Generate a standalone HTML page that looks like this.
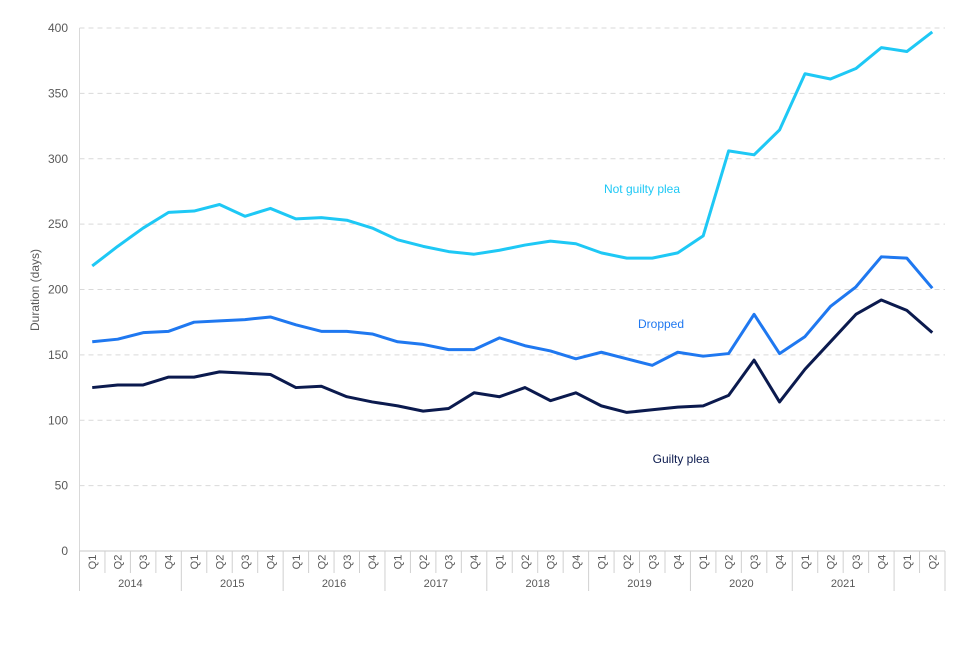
<!DOCTYPE html>
<html><head><meta charset="utf-8"><style>
body{margin:0;background:#fff;width:960px;height:640px;overflow:hidden;font-family:"Liberation Sans",Arial,sans-serif}
svg text{font-family:"Liberation Sans",Arial,sans-serif}
</style></head><body>
<svg id="chart" width="960" height="640" xmlns="http://www.w3.org/2000/svg"></svg>
<script>
const years=["2014","2015","2016","2017","2018","2019","2020","2021",""];
const quarters=["Q1","Q2","Q3","Q4"];
const yTicks=[0,50,100,150,200,250,300,350,400];
const notGuilty=[218,233,247,259,260,265,256,262,254,255,253,247,238,233,229,227,230,234,237,235,228,224,224,228,241,306,303,322,365,361,369,385,382,397];
const dropped=[160,162,167,168,175,176,177,179,173,168,168,166,160,158,154,154,163,157,153,147,152,147,142,152,149,151,181,151,164,187,202,225,224,201];
const guilty=[125,127,127,133,133,137,136,135,125,126,118,114,111,107,109,121,118,125,115,121,111,106,108,110,111,119,146,114,139,160,181,192,184,167];
const svg=document.getElementById('chart');
const NS='http://www.w3.org/2000/svg';
const x0=79.5,x1=945,yb=551,yt=28,n=notGuilty.length;
const bw=(x1-x0)/n;
function xs(i){return x0+bw*(i+0.5);}
function ys(v){return yb-(v/400)*(yb-yt);}
function mk(tag,attrs,parent){const e=document.createElementNS(NS,tag);for(const k in attrs)e.setAttribute(k,attrs[k]);(parent||svg).appendChild(e);return e;}
yTicks.forEach(t=>{
  if(t>0){const g=mk('line',{x1:x0,x2:x1,y1:ys(t),y2:ys(t),stroke:'#d9d9d9','stroke-dasharray':'5,4'});
  
  }
  const tx=mk('text',{x:68,y:ys(t)+4,'text-anchor':'end','font-size':12,fill:'#595959'});tx.textContent=t;
  
  
});
const ax=mk('line',{x1:x0,x2:x0,y1:yt,y2:yb,stroke:'#d9d9d9'});


const xa=mk('line',{x1:x0,x2:x1,y1:yb,y2:yb,stroke:'#c8c8c8'});


for(let i=0;i<=n;i++){
  const x=x0+bw*i;const major=(i%4===0)||i===n;
  const l=mk('line',{x1:x,x2:x,y1:yb,y2:major?591:573,stroke:'#d0d0d0'});
  
  
  if(i<n){const q=quarters[i%4];
    const t=mk('text',{transform:`translate(${xs(i)+4},562) rotate(-90)`,'text-anchor':'middle','font-size':11,fill:'#595959'});t.textContent=q;
    
    }
}
years.forEach((y,k)=>{if(!y)return;
  const t=mk('text',{x:x0+bw*(4*k+2),y:587,'text-anchor':'middle','font-size':11,fill:'#595959'});t.textContent=y;
  
  });
const yt2=mk('text',{transform:'translate(39,290) rotate(-90)','text-anchor':'middle','font-size':12,fill:'#595959'});yt2.textContent='Duration (days)';


function series(arr,col,name){
  const p=mk('polyline',{points:arr.map((v,i)=>xs(i)+','+ys(v)).join(' '),fill:'none',stroke:col,'stroke-width':3,'stroke-linejoin':'round'});
  
  
}
series(notGuilty,'#1ec8f5','line-not-guilty-plea');
series(dropped,'#1f78f0','line-dropped');
series(guilty,'#0b1a4e','line-guilty-plea');
function lab(txt,x,y,col,name){const t=mk('text',{x:x,y:y,'text-anchor':'middle','font-size':12,fill:col});t.textContent=txt;
  
  }
lab('Not guilty plea',642,193,'#1ec8f5','label-not-guilty-plea');
lab('Dropped',661,328,'#1f78f0','label-dropped');
lab('Guilty plea',681,463,'#0b1a4e','label-guilty-plea');
</script>
</body></html>
